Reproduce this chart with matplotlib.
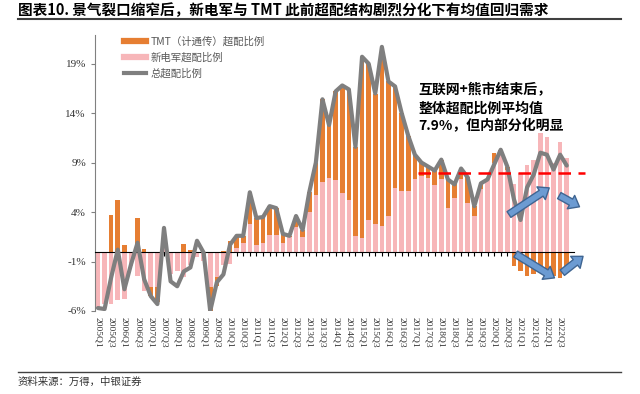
import matplotlib
matplotlib.use("Agg")
import matplotlib.pyplot as plt
from matplotlib.patches import FancyArrowPatch
from matplotlib.lines import Line2D
import numpy as np

plt.rcParams['font.family'] = ['Noto Sans CJK SC', 'DejaVu Sans']

# quarters 2005Q1 .. 2022Q4
quarters = [f"{y}Q{q}" for y in range(2005, 2023) for q in range(1, 5)]

# TMT (计通传) overweight, %
tmt = [0.0, 0.0, 3.7, 5.2, 0.7, 0.0, 3.4, 0.3, -0.9, -1.5,
       0.4, 0.0, 0.0, 0.8, 0.2, 0.0, 0.0, -2.4, -0.9, 0.1,
       1.1, 1.2, 0.7, 3.2, 2.7, 2.6, 2.9, 2.7, 1.0, 0.1,
       1.1, 0.7, 2.0, 3.3, 8.4, 5.4, 9.0, 10.9, 11.2, 9.0,
       18.3, 15.8, 13.1, 18.1, 13.6, 10.3, 7.9, 5.6, 2.5, 1.4,
       1.2, 1.5, 2.0, 2.9, 1.4, 1.0, 2.6, 1.0, 0.6, 0.0,
       1.0, 0.3, 0.3, -1.5, -2.0, -2.5, -2.3, -1.8, -2.2, -2.5,
       -2.7, -1.8]

# 新电军 overweight, %
newpower = [-5.7, -5.3, -5.3, -4.9, -4.8, -1.5, -2.5, -4.0, -3.6, -3.6,
            1.2, -2.3, -2.0, -2.6, -1.3, -0.5, -0.9, -3.6, -2.6, -1.3,
            -1.2, 0.4, 0.9, 2.8, 0.7, 0.9, 1.7, 1.7, 0.9, 1.5,
            2.5, 1.5, 4.0, 5.7, 7.0, 7.4, 7.2, 5.9, 5.2, 1.6,
            1.4, 3.2, 2.8, 2.6, 3.6, 6.4, 6.1, 6.1, 7.3, 7.6,
            7.4, 6.7, 7.3, 4.4, 5.4, 7.3, 4.9, 3.6, 6.3, 7.3,
            9.0, 10.0, 8.3, 6.8, 7.9, 8.8, 9.3, 12.0, 11.6, 9.0,
            11.1, 9.5]

# total overweight, %
total = [-5.7, -5.8, -2.6, 0.2, -3.8, -1.3, 0.9, -2.8, -4.5, -5.3,
         2.4, -3.0, -3.5, -2.0, -1.6, 1.1, -0.1, -6.0, -3.1, -2.3,
         0.7, 1.6, 1.6, 6.0, 3.4, 3.5, 4.6, 4.4, 1.8, 1.6,
         3.6, 2.2, 6.0, 9.0, 15.4, 12.8, 16.2, 16.8, 16.4, 10.6,
         19.7, 19.0, 16.0, 20.7, 17.2, 16.7, 14.0, 11.7, 9.8, 9.0,
         8.6, 8.2, 9.3, 7.3, 6.8, 8.4, 7.5, 4.6, 6.9, 7.3,
         8.8, 10.3, 8.6, 5.3, 3.2, 6.5, 7.8, 10.0, 9.8, 8.3,
         9.8, 8.7]

MEAN_LEVEL = 7.9
MEAN_START = "2017Q2"

ORANGE = '#E67E32'
PINK = '#F7B6B9'
GRAY = '#7F7F7F'

x = np.arange(len(quarters))
tmt_a = np.array(tmt)
np_a = np.array(newpower)
# stack orange on pink when same sign, otherwise start from zero
bottom = np.where(np.sign(tmt_a) == np.sign(np_a), np_a, 0.0)

fig = plt.figure(figsize=(6.4, 3.94), dpi=100)
ax = fig.add_axes([95 / 640, 1 - 311 / 394, 479 / 640, 276 / 394])

ax.bar(x, np_a, width=0.7, color=PINK, zorder=2)
ax.bar(x, tmt_a, width=0.7, bottom=bottom, color=ORANGE, zorder=2)
ax.plot(x, total, color=GRAY, lw=3, solid_joinstyle='round',
        solid_capstyle='round', zorder=4)

# mean reference line
i0 = quarters.index(MEAN_START)
ax.hlines(MEAN_LEVEL, i0 - 0.5, len(quarters) + 1.8, colors='#FF0000',
          linestyles=(0, (5, 3)), lw=1.8, zorder=5, clip_on=False)

ax.set_xlim(-0.45, 72.1)
ax.set_ylim(-6, 21.9)
ax.set_yticks([-6, -1, 4, 9, 14, 19])
ax.set_yticklabels([f"{v}%" for v in [-6, -1, 4, 9, 14, 19]],
                   family='Liberation Serif', fontsize=8, color='#333333')

for s in ['top', 'right']:
    ax.spines[s].set_visible(False)
ax.spines['left'].set_color('#808080')
ax.spines['bottom'].set_position(('data', 0))
ax.spines['bottom'].set_color('black')
ax.spines['bottom'].set_zorder(3)
ax.set_xticks(x)
ax.tick_params(axis='x', length=3, color='black', labelbottom=False)
ax.tick_params(axis='y', length=3, color='#808080')

sec = ax.secondary_xaxis('bottom')
sec.set_xticks(x[::2], [quarters[i] for i in x[::2]], rotation=-90,
               family='Liberation Serif', fontsize=6.8, color='#333333')
sec.tick_params(length=0, pad=4)
sec.spines['bottom'].set_visible(False)

handles = [Line2D([], [], color=ORANGE, lw=4.5),
           Line2D([], [], color=PINK, lw=4.5),
           Line2D([], [], color=GRAY, lw=3)]
labels = ["TMT（计通传）超配比例", "新电军超配比例", "总超配比例"]
ax.legend(handles, labels, loc='upper left', bbox_to_anchor=(0.04, 1.03),
          frameon=False, fontsize=7.5, handlelength=2.2, handletextpad=0.4,
          labelspacing=0.55, labelcolor='#595959')

ax.text(48.5, 17.0, "互联网+熊市结束后，\n整体超配比例平均值\n7.9%，但内部分化明显",
        fontsize=10, fontweight='bold', va='top', ha='left',
        linespacing=1.35, color='black', zorder=6)

arrow_style = "simple,head_length=0.7,head_width=1.1,tail_width=0.5"
arrows = [((61.9, 3.6), (68.7, 6.6)),
          ((69.5, 5.8), (73.3, 4.4)),
          ((62.9, -0.1), (69.5, -2.8)),
          ((70.0, -2.3), (73.8, -0.3))]
for start, end in arrows:
    ar = FancyArrowPatch(start, end, arrowstyle=arrow_style, mutation_scale=10,
                         facecolor='#6C9BD2', edgecolor='#3F6592', lw=1,
                         zorder=7, clip_on=False)
    ax.add_patch(ar)

fig.text(18 / 640, 1 - 10 / 394,
         "图表10. 景气裂口缩窄后，新电军与 TMT 此前超配结构剧烈分化下有均值回归需求",
         fontsize=10.5, fontweight='bold', va='center', ha='left', color='black')
fig.add_artist(Line2D([18 / 640, 621 / 640], [1 - 19 / 394, 1 - 19 / 394],
                      color='#404040', lw=1.5))
fig.add_artist(Line2D([18 / 640, 621 / 640], [1 - 372 / 394, 1 - 372 / 394],
                      color='#404040', lw=1.0))
fig.text(18 / 640, 1 - 382 / 394, "资料来源：万得，中银证券", fontsize=7.5,
         style='italic', va='center', ha='left', color='#333333')

fig.savefig("out.png", dpi=100)
